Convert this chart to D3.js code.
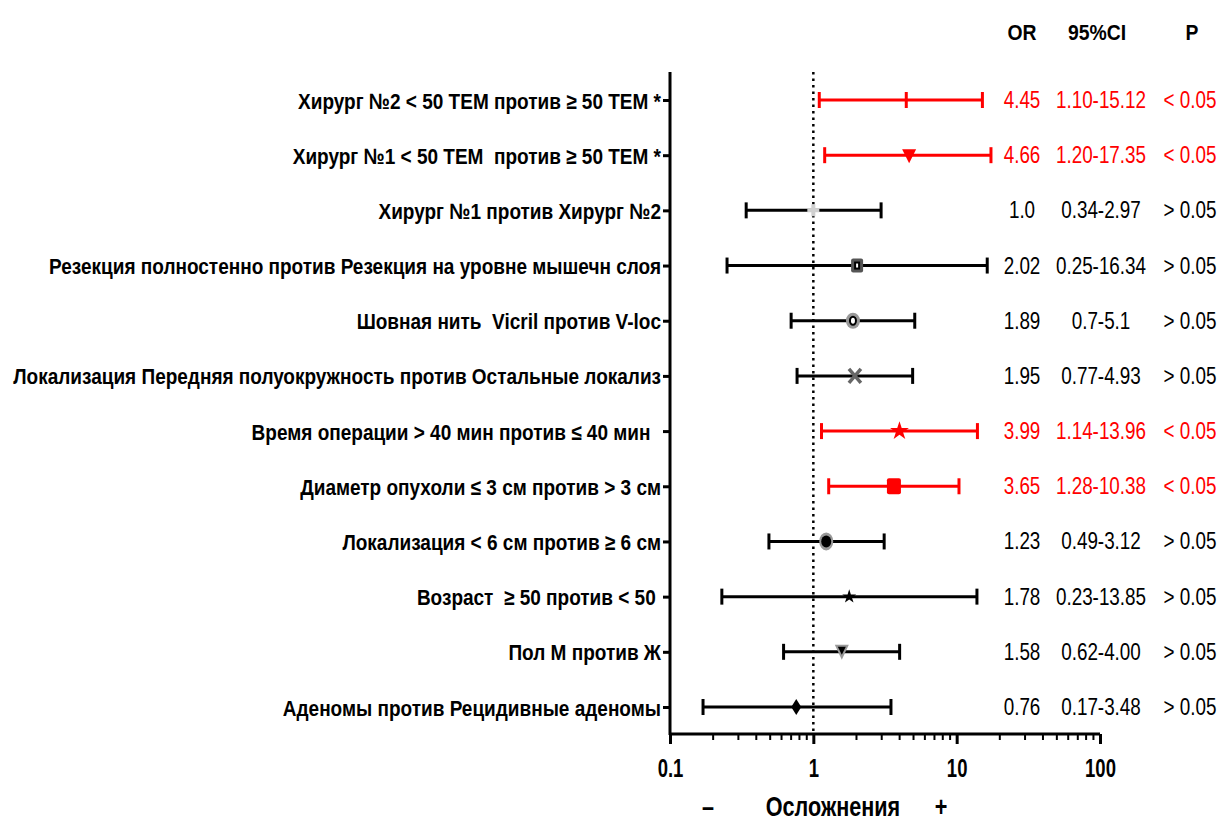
<!DOCTYPE html>
<html>
<head>
<meta charset="utf-8">
<title>Forest plot</title>
<style type="text/css">
	body { margin: 0; background: #fff; }
	svg text { font-family: "Liberation Sans", Arial, sans-serif; white-space: pre; }
	.lbl { font-weight: bold; font-size: 22px; }
	.val { font-size: 23px; }
	.hdr { font-weight: bold; font-size: 22px; }
</style>
<script src="https://cdnjs.cloudflare.com/ajax/libs/d3/7.8.5/d3.min.js"></script>
</head>
<body>
<div id="chart"></div>
<script type="text/javascript">
// rows, top to bottom
var labels = [
	"Хирург №2 < 50 ТЕМ против ≥ 50 ТЕМ *",
	"Хирург №1 < 50 ТЕМ  против ≥ 50 ТЕМ *",
	"Хирург №1 против Хирург №2",
	"Резекция полностенно против Резекция на уровне мышечн слоя",
	"Шовная нить  Vicril против V-loc",
	"Локализация Передняя полуокружность против Остальные локализ",
	"Время операции > 40 мин против ≤ 40 мин  ",
	"Диаметр опухоли ≤ 3 см против > 3 см",
	"Локализация < 6 см против ≥ 6 см",
	"Возраст  ≥ 50 против < 50 ",
	"Пол М против Ж",
	"Аденомы против Рецидивные аденомы"
];
var orText = ["4.45", "4.66", "1.0", "2.02", "1.89", "1.95", "3.99", "3.65", "1.23", "1.78", "1.58", "0.76"];
var ciText = ["1.10-15.12", "1.20-17.35", "0.34-2.97", "0.25-16.34", "0.7-5.1", "0.77-4.93",
	"1.14-13.96", "1.28-10.38", "0.49-3.12", "0.23-13.85", "0.62-4.00", "0.17-3.48"];
var pText = ["< 0.05", "< 0.05", "> 0.05", "> 0.05", "> 0.05", "> 0.05",
	"< 0.05", "< 0.05", "> 0.05", "> 0.05", "> 0.05", "> 0.05"];
var xTicks = [0.1, 1, 10, 100];
var headers = ["OR", "95%CI", "P"];

// marker shape per row (style only)
var markers = ["tick", "tri", "plus", "sqHollow", "circHollow", "cross", "star", "square", "circDot", "starSmall", "triGray", "diamond"];

var rows = labels.map(function(l, i){
	var ci = ciText[i].split("-");
	return {
		label: l, or: +orText[i], lo: +ci[0], hi: +ci[1],
		orT: orText[i], ciT: ciText[i], pT: pText[i],
		sig: pText[i].charAt(0) == "<", marker: markers[i]
	};
});

var W = 1229, H = 825;
var svg = d3.select("#chart").append("svg").attr("width", W).attr("height", H);

var x = d3.scaleLog().domain([0.1, 100]).range([670, 1100]);
var y = d3.scalePoint().domain(d3.range(rows.length)).range([100, 707]);
var axisY = 734, topY = 72;

// condensed look: squeeze text horizontally around its anchor
var squeeze = function(sel, sx, cx, cy){
	sel.attr("x", 0).attr("y", 0).attr("transform", "translate(" + cx + "," + cy + ") scale(" + sx + ",1)");
};

// x axis with minor ticks
var minor = [];
[0.1, 1, 10].forEach(function(d){ for (var k = 2; k <= 9; k++) minor.push(d * k); });
svg.append("g").selectAll("line").data(minor).enter().append("line")
	.attr("x1", x).attr("x2", x).attr("y1", axisY).attr("y2", axisY + 6)
	.attr("stroke", "#000").attr("stroke-width", 2);
var xa = svg.append("g").attr("transform", "translate(0," + axisY + ")")
	.call(d3.axisBottom(x).tickValues(xTicks).tickSize(10).tickFormat(d3.format("")));
xa.select(".domain").attr("stroke-width", 3).attr("d", "M670,0H1100");
xa.selectAll(".tick line").attr("stroke-width", 3);
xa.selectAll(".tick text").attr("font-size", null).attr("font-family", null).attr("dy", null)
	.style("font-size", "25px").style("font-weight", "bold").attr("fill", "#000")
	.each(function(){ squeeze(d3.select(this), 0.74, 0, 43); });

// y axis
var ya = svg.append("g").attr("transform", "translate(670,0)")
	.call(d3.axisLeft(y).tickSize(7).tickFormat(function(i){ return labels[i]; }));
ya.select(".domain").attr("stroke-width", 3).attr("d", "M0," + topY + "V" + (axisY + 1));
ya.selectAll(".tick line").attr("stroke-width", 3);
var yt = ya.selectAll(".tick text").attr("font-size", null).attr("font-family", null)
	.attr("class", "lbl").attr("fill", "#000").attr("dy", null);
var longest = d3.max(yt.nodes(), function(n){ return n.getComputedTextLength(); });
var sxLbl = 648 / longest;
yt.each(function(){ squeeze(d3.select(this), sxLbl, -9, 8); });

// reference line at OR = 1
svg.append("line").attr("x1", x(1)).attr("x2", x(1)).attr("y1", topY).attr("y2", axisY)
	.attr("stroke", "#000").attr("stroke-width", 2.5).attr("stroke-dasharray", "2.5,4");

// error bars
var g = svg.append("g");
var bar = g.selectAll("g.row").data(rows).enter().append("g").attr("class", "row")
	.attr("transform", function(d, i){ return "translate(0," + y(i) + ")"; });
bar.append("line").attr("x1", function(d){ return x(d.lo); }).attr("x2", function(d){ return x(d.hi); })
	.attr("stroke", function(d){ return d.sig ? "#ff0000" : "#000"; }).attr("stroke-width", 3);
bar.each(function(d){
	var s = d3.select(this), c = d.sig ? "#ff0000" : "#000";
	[d.lo, d.hi].forEach(function(v){
		s.append("line").attr("x1", x(v)).attr("x2", x(v)).attr("y1", -8).attr("y2", 8)
			.attr("stroke", c).attr("stroke-width", 3);
	});
	var cx = x(d.or), m = s.append("g").attr("transform", "translate(" + cx + ",0)");
	switch (d.marker) {
		case "tick":
			m.append("line").attr("y1", -8).attr("y2", 8).attr("stroke", c).attr("stroke-width", 3); break;
		case "tri":
			m.append("path").attr("d", "M-7,-6L7,-6L0,8Z").attr("fill", c); break;
		case "plus":
			m.append("path").attr("d", "M-6,0H6M0,-6V6").attr("stroke", "#d0d0d0").attr("stroke-width", 4); break;
		case "sqHollow":
			m.append("rect").attr("x", -6).attr("y", -7).attr("width", 12).attr("height", 14).attr("rx", 2).attr("fill", "#555");
			m.append("rect").attr("x", -2).attr("y", -3).attr("width", 4).attr("height", 6).attr("fill", "#fff").attr("stroke", "#000").attr("stroke-width", 2); break;
		case "circHollow":
			m.append("ellipse").attr("rx", 7).attr("ry", 8).attr("fill", "#999");
			m.append("ellipse").attr("rx", 3).attr("ry", 4).attr("fill", "#fff").attr("stroke", "#000").attr("stroke-width", 2); break;
		case "cross":
			m.append("path").attr("d", "M-6,-7L6,7M-6,7L6,-7").attr("stroke", "#666").attr("stroke-width", 3.5); break;
		case "star":
			m.append("path").attr("d", d3.symbol(d3.symbolStar, 110)()).attr("fill", c); break;
		case "square":
			m.append("rect").attr("x", -7).attr("y", -8).attr("width", 14).attr("height", 16).attr("rx", 2).attr("fill", c); break;
		case "circDot":
			m.append("ellipse").attr("rx", 7).attr("ry", 9).attr("fill", "#999");
			m.append("ellipse").attr("rx", 5).attr("ry", 6).attr("fill", "#000"); break;
		case "starSmall":
			m.append("path").attr("d", d3.symbol(d3.symbolStar, 60)()).attr("fill", "#000"); break;
		case "triGray":
			m.append("path").attr("d", "M-7,-7L7,-7L0,8Z").attr("fill", "#999");
			m.append("path").attr("d", "M-4,-5L4,-5L0,3Z").attr("fill", "#000"); break;
		case "diamond":
			m.append("path").attr("d", "M0,-8L5,0L0,8L-5,0Z").attr("fill", "#000"); break;
	}
});

// value columns
var cols = [{k: "orT", x: 1022}, {k: "ciT", x: 1101}, {k: "pT", x: 1190}];
cols.forEach(function(col){
	svg.append("g").selectAll("text").data(rows).enter().append("text")
		.attr("class", "val").attr("text-anchor", "middle")
		.attr("fill", function(d){ return d.sig ? "#ff0000" : "#000"; })
		.text(function(d){ return d[col.k]; })
		.each(function(d, i){ squeeze(d3.select(this), 0.82, col.x, y(i) + 8); });
});
svg.append("g").selectAll("text").data(headers).enter().append("text")
	.attr("class", "hdr").attr("text-anchor", "middle")
	.text(function(d){ return d; })
	.each(function(d, i){ squeeze(d3.select(this), 0.88, [1022, 1097, 1192][i], 40); });

// bottom title
var tt = svg.append("g").attr("class", "hdr").style("font-size", "27px");
[["–", 708], ["Осложнения", 833], ["+", 941]].forEach(function(t){
	tt.append("text").attr("text-anchor", "middle").text(t[0])
		.call(squeeze, 0.8, t[1], 816);
});
</script>
</body>
</html>
